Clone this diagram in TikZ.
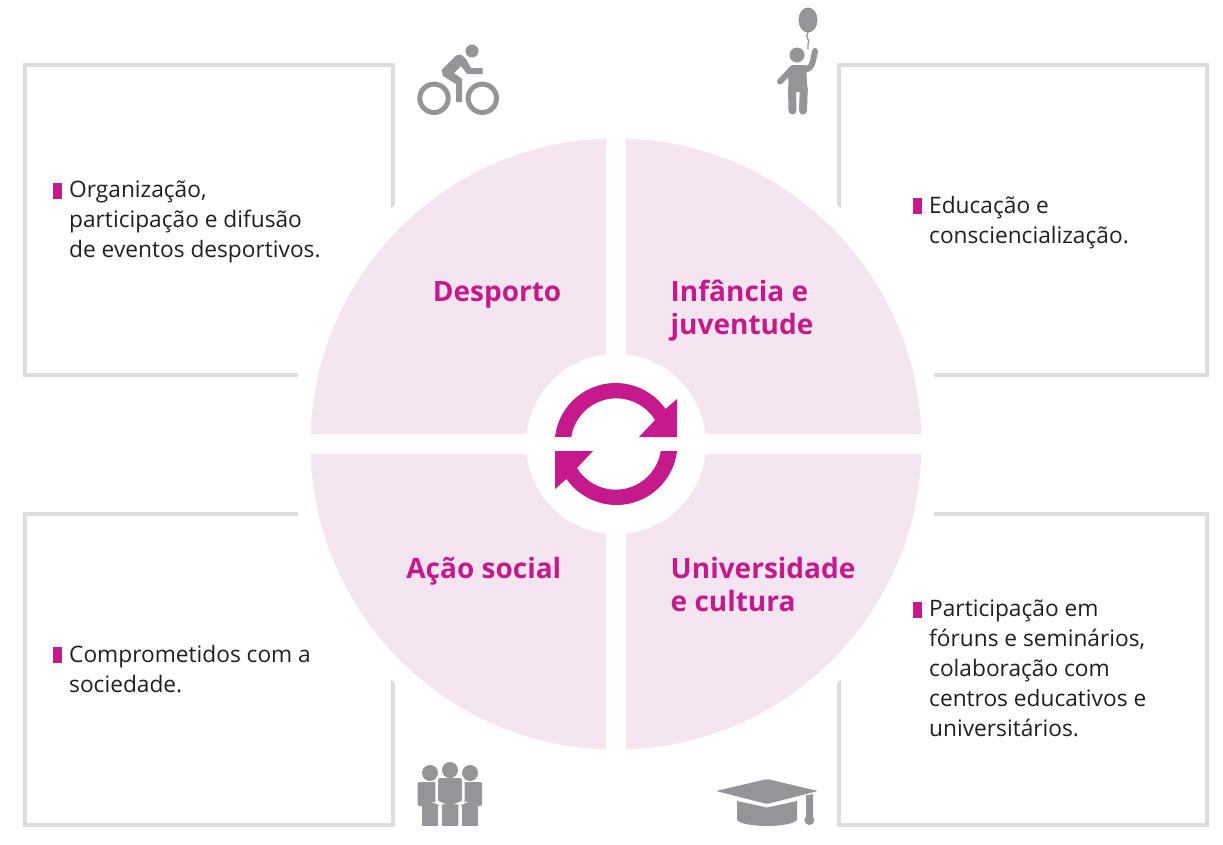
\documentclass[tikz,border=0pt]{standalone}
\usepackage{fontspec}
\setmainfont{Open Sans}
\usepackage{xcolor}
\usepackage{tikz}
\usetikzlibrary{arrows.meta,positioning,shapes}
\definecolor{tmmagenta}{HTML}{C41A8C}
\definecolor{tmpink}{HTML}{F4E5F1}
\definecolor{tmframe}{HTML}{DCDDDE}
\definecolor{tmicon}{HTML}{939598}
\tikzset{
  framepath/.style={draw=tmframe,line width=4pt,line cap=butt,line join=miter},
  whitedisc/.style={circle,fill=white,inner sep=0pt},
  pinkdisc/.style={circle,fill=tmpink,inner sep=0pt,minimum size=611pt},
  gapline/.style={draw=white,line width=20pt},
  itemmark/.style={rectangle,fill=tmmagenta,inner sep=0pt,minimum width=8.5pt,minimum height=16.5pt},
  itemtext/.style={anchor=north west,align=left,inner sep=0pt,text=black!88,font=\fontsize{22.7}{30}\selectfont},
  sectlabel/.style={align=left,inner sep=0pt,text=tmmagenta,font=\fontsize{28}{33}\selectfont\bfseries},
  iconline/.style={draw=tmicon,line cap=round,line join=round},
}
\begin{document}
\begin{tikzpicture}[x=1pt,y=1pt]
  \useasboundingbox (0,0) rectangle (1223,-844);
  % frames
  \draw[framepath] (393,-260) -- (393,-65) -- (25,-65) -- (25,-375) -- (400,-375);
  \draw[framepath] (839,-260) -- (839,-65) -- (1207,-65) -- (1207,-375) -- (830,-375);
  \draw[framepath] (393,-630) -- (393,-825) -- (25,-825) -- (25,-514) -- (400,-514);
  \draw[framepath] (839,-630) -- (839,-825) -- (1207,-825) -- (1207,-514) -- (830,-514);
  % disc
  \node[whitedisc,minimum size=651pt] (nClear) at (616,-444) {};
  \node[pinkdisc] (nDisc) at (616,-444) {};
  \draw[gapline] (nDisc.north) -- (nDisc.south);
  \draw[gapline] (nDisc.west) -- (nDisc.east);
  \node[whitedisc,minimum size=180pt] (nHub) at (616,-444) {};
  % arrows
  \fill[tmmagenta] (555,-437) arc[start angle=173.4,end angle=35,radius=61] -- (677,-399) -- (677,-437)
    -- (639,-437) -- (655,-420) arc[start angle=31.6,end angle=171.1,radius=45.5] -- cycle;
  \fill[tmmagenta,rotate around={180:(616,-444)}] (555,-437) arc[start angle=173.4,end angle=35,radius=61] -- (677,-399) -- (677,-437)
    -- (639,-437) -- (655,-420) arc[start angle=31.6,end angle=171.1,radius=45.5] -- cycle;
  % sector labels
  \node[sectlabel,anchor=base east] (lDesp) at (561.5,-301) {Desporto};
  \node[sectlabel,anchor=base east] (lAcao) at (561.5,-578) {Ação social};
  \node[sectlabel,anchor=base west] (lInf) at (670.5,-301) {Infância e};
  \node[sectlabel,anchor=base west] (lJuv) at (670.5,-334) {juventude};
  \node[sectlabel,anchor=base west] (lUni) at (670.5,-578) {Universidade};
  \node[sectlabel,anchor=base west] (lCul) at (670.5,-611) {e cultura};
  % items
  \node[itemmark] (mA) at (57.5,-191) {};
  \node[itemtext] (tA) at (69,-181) {Organização,\\participação e difusão\\de eventos desportivos.};
  \node[itemmark] (mB) at (917.5,-206) {};
  \node[itemtext] (tB) at (929,-196) {Educação e\\consciencialização.};
  \node[itemmark] (mC) at (57.5,-655) {};
  \node[itemtext] (tC) at (69,-645) {Comprometidos com a\\sociedade.};
  \node[itemmark] (mD) at (917.5,-610) {};
  \node[itemtext] (tD) at (929,-600) {Participação em\\fóruns e seminários,\\colaboração com\\centros educativos e\\universitários.};
  % bike
  \draw[iconline,line width=5pt] (434,-98.3) circle[radius=14.2];
  \draw[iconline,line width=5pt] (482.3,-98.3) circle[radius=14.2];
  \fill[tmicon] (472,-51) circle[radius=6.5];
  \fill[tmicon] (456,-102) -- (456,-84) -- (443,-76) -- (441.5,-70) -- (456,-55.5) -- (461,-54.5) -- (466,-59)
    -- (471,-68) -- (482.5,-68) -- (482.5,-74) -- (467,-74) -- (461,-66) -- (454,-73) -- (462,-79) -- (462,-102) -- cycle;
  % child and balloon
  \fill[tmicon] (808,-20) ellipse[x radius=9.5,y radius=12.5];
  \draw[iconline,line width=1.3pt] (808,-32) .. controls (804,-37) and (811,-40) .. (808,-44) -- (808,-49);
  \fill[tmicon] (797,-55) circle[radius=7.5];
  \draw[iconline,line width=6pt] (780,-81.5) -- (791,-70);
  \draw[iconline,line width=6pt] (804,-70) .. controls (812,-68) and (812,-66) .. (815,-51);
  \fill[tmicon] (788,-68) -- (792,-65) -- (806,-65) -- (807.5,-92) -- (788.5,-92) -- cycle;
  \draw[iconline,line width=8pt] (792,-88) -- (792.5,-110.5);
  \draw[iconline,line width=8pt] (803.8,-88) -- (803,-110.5);
  % people
  \fill[tmicon] (430,-773) circle[radius=8];
  \fill[tmicon] (470,-773) circle[radius=8];
  \fill[tmicon,rounded corners=2pt] (417.5,-806) -- (417.5,-782) -- (440,-782) -- (440,-806) -- cycle;
  \fill[tmicon] (422,-800) rectangle (438,-826);
  \fill[tmicon,rounded corners=2pt] (460,-806) -- (460,-782) -- (482,-782) -- (482,-806) -- cycle;
  \fill[tmicon] (462,-800) rectangle (478,-826);
  \filldraw[tmicon,draw=white,line width=2.5pt,rounded corners=3pt] (436.7,-803) -- (436.7,-776.7) -- (463.3,-776.7) -- (463.3,-803) -- (459.5,-803) -- (459.5,-828) -- (440.5,-828) -- (440.5,-803) -- cycle;
  \fill[white] (436,-826) rectangle (464,-830);
  \fill[tmicon] (450,-770) circle[radius=8];
  % cap
  \fill[tmicon,rounded corners=1.5pt] (716,-791) -- (767,-779) -- (818,-791) -- (767,-804) -- cycle;
  \fill[tmicon] (737,-801) -- (767,-807.5) -- (797,-801) -- (797,-820) .. controls (790,-828) and (744,-828) .. (737,-820) -- cycle;
  \fill[tmicon] (806,-795.5) -- (813,-794) -- (813,-818) -- (806,-818) -- cycle;
  \fill[tmicon] (809.3,-820) circle[radius=5];
\end{tikzpicture}
\end{document}
